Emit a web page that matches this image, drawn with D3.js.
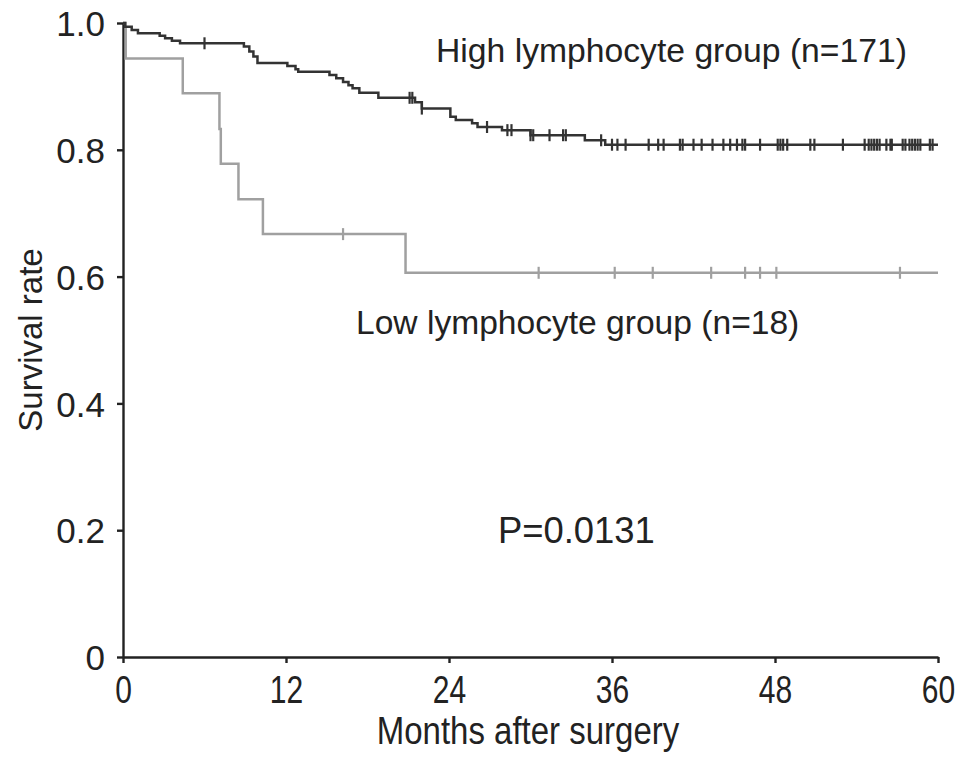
<!DOCTYPE html>
<html lang="en">
<head>
<meta charset="UTF-8">
<title>Survival by lymphocyte group</title>
<script src="https://d3js.org/d3.v7.min.js"></script>
<style>
  body { margin: 0; background: #fff; }
  text { font-family: Arial, "Liberation Sans", sans-serif; fill: #222; }
</style>
</head>
<body>
<div id="chart"></div>
<script>
// Kaplan-Meier steps (time in months, survival after the step)
const highTimes = [0, 0.15, 0.64, 1.1, 2.7, 3.1, 3.6, 4.2, 8.9, 9.3, 9.6, 9.9, 12.1, 12.7, 12.9,
  15.2, 15.7, 16.2, 16.6, 16.9, 17.4, 18.8, 21.5, 22.0, 24.1, 24.5, 25.7, 26.1, 27.9, 30.0, 34.0, 35.5];
const highSurv = [1, 0.994, 0.989, 0.984, 0.980, 0.976, 0.972, 0.968, 0.963, 0.955, 0.947, 0.937, 0.932, 0.927, 0.923,
  0.918, 0.913, 0.907, 0.902, 0.897, 0.890, 0.882, 0.875, 0.865, 0.852, 0.847, 0.842, 0.836, 0.831, 0.823, 0.815, 0.808];
const highCensor = [6.0, 21.1, 21.3, 22.0, 26.8, 28.3, 28.6, 30.0, 30.2, 31.4, 32.4, 32.6, 35.2, 36.0, 36.4, 37.0,
  38.7, 39.4, 39.8, 41.0, 41.2, 42.0, 42.6, 43.4, 44.2, 44.7, 45.2, 45.6, 45.8, 46.9, 48.2, 48.4, 48.6, 48.9,
  50.6, 50.9, 53.0, 54.6, 54.9, 55.1, 55.3, 55.5, 55.7, 56.2, 56.5, 56.6, 57.4, 57.6, 57.9, 58.1, 58.3, 58.5,
  58.7, 59.4, 59.6];

const lowTimes = [0, 0.2, 4.4, 7.1, 7.2, 8.5, 10.3, 20.8];
const lowSurv = [1, 0.944, 0.889, 0.833, 0.778, 0.722, 0.667, 0.606];
const lowCensor = [16.2, 30.6, 36.2, 39.0, 43.3, 45.8, 46.9, 48.1, 57.2];

const xTicks = [0, 12, 24, 36, 48, 60];
const yTicks = [0, 0.2, 0.4, 0.6, 0.8, 1.0];

const width = 971, height = 761;
const margin = { top: 23, right: 33, bottom: 104, left: 123 };

const svg = d3.select("#chart").append("svg")
  .attr("width", width)
  .attr("height", height);

const x = d3.scaleLinear().domain([0, 60]).range([margin.left, width - margin.right]);
const y = d3.scaleLinear().domain([0, 1]).range([height - margin.bottom, margin.top]);

// axes
const xAxis = svg.append("g")
  .attr("transform", `translate(0,${height - margin.bottom})`)
  .call(d3.axisBottom(x).tickValues(xTicks).tickSize(6).tickSizeOuter(0));
const yAxis = svg.append("g")
  .attr("transform", `translate(${margin.left},0)`)
  .call(d3.axisLeft(y).tickValues(yTicks).tickSize(6).tickPadding(12).tickSizeOuter(0)
    .tickFormat(d => d === 0 ? "0" : d3.format(".1f")(d)));

svg.selectAll(".domain, .tick line").attr("stroke", "#222").attr("stroke-width", 2.4);
xAxis.selectAll(".tick text")
  .style("font-size", "30px")
  .attr("dy", 0)
  .attr("y", 0)
  .attr("fill", "#222")
  .attr("transform", "translate(0,46) scale(1,1.3)");
yAxis.selectAll("text").style("font-size", "35px").attr("dy", "0.36em").attr("fill", "#222");

// step lines
const line = d3.line()
  .x(d => x(d[0]))
  .y(d => y(d[1]))
  .curve(d3.curveStepAfter);

function steps(times, surv) {
  const pts = times.map((t, i) => [t, surv[i]]);
  pts.push([60, surv[surv.length - 1]]);
  return pts;
}
function survAt(times, surv, t) {
  return surv[d3.bisectRight(times, t) - 1];
}

svg.append("path")
  .datum(steps(lowTimes, lowSurv))
  .attr("d", line)
  .attr("fill", "none")
  .attr("stroke", "#a0a0a0")
  .attr("stroke-width", 2.5);

svg.selectAll(".low-censor")
  .data(lowCensor)
  .enter().append("line")
  .attr("x1", d => x(d)).attr("x2", d => x(d))
  .attr("y1", d => y(survAt(lowTimes, lowSurv, d)) - 6)
  .attr("y2", d => y(survAt(lowTimes, lowSurv, d)) + 6)
  .attr("stroke", "#a0a0a0")
  .attr("stroke-width", 2.2);

svg.append("path")
  .datum(steps(highTimes, highSurv))
  .attr("d", line)
  .attr("fill", "none")
  .attr("stroke", "#333")
  .attr("stroke-width", 2.5);

svg.selectAll(".high-censor")
  .data(highCensor)
  .enter().append("line")
  .attr("x1", d => x(d)).attr("x2", d => x(d))
  .attr("y1", d => y(survAt(highTimes, highSurv, d)) - 6)
  .attr("y2", d => y(survAt(highTimes, highSurv, d)) + 6)
  .attr("stroke", "#333")
  .attr("stroke-width", 2.2);

// labels
svg.append("text")
  .attr("x", 436).attr("y", 62)
  .style("font-size", "33.7px")
  .text("High lymphocyte group (n=171)");

svg.append("text")
  .attr("x", 356).attr("y", 334)
  .style("font-size", "33.6px")
  .text("Low lymphocyte group (n=18)");

svg.append("text")
  .attr("x", 498).attr("y", 543)
  .style("font-size", "36.4px")
  .text("P=0.0131");

svg.append("text")
  .attr("text-anchor", "middle")
  .attr("transform", "translate(528,744) scale(1,1.2)")
  .style("font-size", "33px")
  .text("Months after surgery");

svg.append("text")
  .attr("text-anchor", "middle")
  .attr("transform", "translate(42,340) rotate(-90)")
  .style("font-size", "33px")
  .text("Survival rate");
</script>
</body>
</html>
